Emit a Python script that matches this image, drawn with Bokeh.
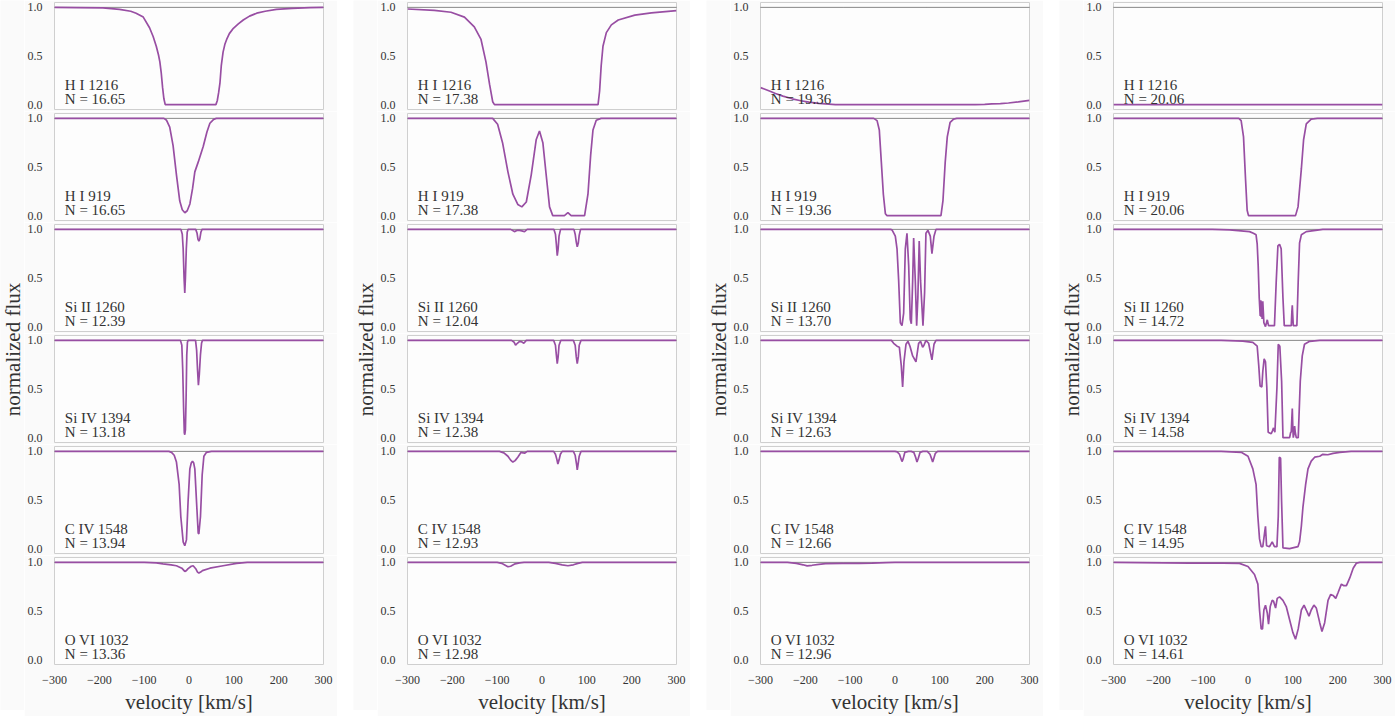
from bokeh.plotting import figure
from bokeh.layouts import row, column, Spacer
from bokeh.models import Span, Label, FixedTicker
from bokeh.embed import file_html
from bokeh.resources import INLINE

FONT = "Liberation Serif"
TEXT = "#333333"
PURPLE = "#984ea3"

# ---------------- data ----------------
ions = ["H I 1216", "H I 919", "Si II 1260", "Si IV 1394", "C IV 1548", "O VI 1032"]
N_col1 = [16.65, 16.65, 12.39, 13.18, 13.94, 13.36]
N_col2 = [17.38, 17.38, 12.04, 12.38, 12.93, 12.98]
N_col3 = [19.36, 19.36, 13.70, 12.63, 12.66, 12.96]
N_col4 = [20.06, 20.06, 14.72, 14.58, 14.95, 14.61]

x_ticks = [-300, -200, -100, 0, 100, 200, 300]
x_tick_labels = ["\u2212300", "\u2212200", "\u2212100", "0", "100", "200", "300"]
y_ticks = [0, 0.5, 1]
y_tick_labels = ["0.0", "0.5", "1.0"]

# column 1
c1_h1216_v = [-300, -250, -192, -155, -130, -118, -102, -88, -80, -73, -68, -65, -62, -59, -56, -53, 60, 63, 66, 69, 72, 76, 80, 84, 90, 99, 110, 121, 135, 151, 170, 195, 230, 270, 300]
c1_h1216_f = [1.0, 0.998, 0.995, 0.98, 0.96, 0.94, 0.90, 0.79, 0.70, 0.60, 0.51, 0.44, 0.33, 0.18, 0.06, 0.0, 0.0, 0.04, 0.12, 0.22, 0.40, 0.54, 0.62, 0.67, 0.73, 0.785, 0.83, 0.87, 0.91, 0.94, 0.96, 0.98, 0.99, 0.998, 1.0]
c1_h919_v = [-300, -56, -50, -43, -35.5, -28, -20.6, -15, -9.3, -4, 2, 8, 13, 20.5, 31.7, 40, 46.6, 55, 61, 300]
c1_h919_f = [1, 1, 0.98, 0.91, 0.72, 0.42, 0.15, 0.06, 0.03, 0.05, 0.12, 0.28, 0.45, 0.55, 0.71, 0.86, 0.95, 0.99, 1, 1]
c1_si2_v = [-300, -18, -15, -13, -11, -9.4, -8, -6, -4, -2, 15, 18, 20, 22, 24, 26.5, 29, 300]
c1_si2_f = [1, 1, 0.95, 0.8, 0.5, 0.345, 0.5, 0.8, 0.97, 1, 1, 0.96, 0.9, 0.88, 0.9, 0.97, 1, 1]
c1_si4_v = [-300, -19, -16, -14, -12, -10.5, -9.4, -8, -6.5, -5, -3.5, -2, 14.6, 17, 19, 21, 23, 25.5, 28, 30, 300]
c1_si4_f = [1, 1, 0.95, 0.7, 0.3, 0.05, 0.03, 0.08, 0.4, 0.85, 0.98, 1, 1, 0.9, 0.7, 0.54, 0.65, 0.85, 0.97, 1, 1]
c1_c4_v = [-300, -45, -39, -33, -28, -22, -18.3, -13, -9.4, -5.7, -2, 1.9, 5, 7.8, 10.5, 13, 16.7, 20.5, 22, 25.6, 29.4, 33.2, 39, 50, 300]
c1_c4_f = [1, 1, 0.99, 0.96, 0.89, 0.66, 0.33, 0.07, 0.03, 0.09, 0.49, 0.82, 0.88, 0.9, 0.88, 0.82, 0.49, 0.16, 0.15, 0.33, 0.76, 0.95, 0.99, 1, 1]
c1_o6_v = [-300, -100, -73, -58, -40, -28, -16, -12, -9.4, -6, -2, 5, 9.3, 15, 19, 22, 26, 30, 46.6, 76, 106, 130, 300]
c1_o6_f = [1, 1, 0.995, 0.985, 0.975, 0.965, 0.94, 0.92, 0.907, 0.915, 0.935, 0.96, 0.965, 0.935, 0.9, 0.89, 0.9, 0.915, 0.94, 0.965, 0.99, 1, 1]

# column 2
c2_h1216_v = [-300, -240, -203, -173, -151, -136, -125, -117, -110, -106, 125, 128.5, 132, 136, 143.5, 154.7, 170, 207, 244, 300]
c2_h1216_f = [0.983, 0.97, 0.95, 0.90, 0.80, 0.67, 0.44, 0.21, 0.03, 0.0, 0.0, 0.14, 0.40, 0.60, 0.74, 0.82, 0.87, 0.92, 0.944, 0.967]
c2_h919_v = [-300, -110, -99, -88, -76, -65, -54, -45, -35, -24, -13, -5.6, 1.9, 9.3, 16.8, 24, 50, 57.8, 65, 95, 102.5, 108.5, 113.7, 121, 132, 300]
c2_h919_f = [1, 1, 0.94, 0.75, 0.45, 0.22, 0.115, 0.09, 0.14, 0.42, 0.78, 0.87, 0.75, 0.42, 0.09, 0.0, 0.0, 0.03, 0.0, 0.0, 0.22, 0.62, 0.88, 0.98, 1, 1]
c2_si2_v = [-300, -70, -61.5, -55, -50, -45, -39, -33, 26.5, 30, 32, 34, 36, 38, 41.4, 71.2, 74, 76.5, 78.6, 81, 83, 86, 300]
c2_si2_f = [1, 1, 0.977, 0.99, 0.99, 0.985, 0.977, 1, 1, 0.95, 0.85, 0.73, 0.8, 0.93, 1, 1, 0.95, 0.87, 0.82, 0.86, 0.94, 1, 1]
c2_si4_v = [-300, -68, -62, -59, -55, -50, -45, -40.6, -35, 26, 30, 32, 34, 36, 38, 42, 70, 74, 76.5, 78.6, 81, 83, 87, 300]
c2_si4_f = [1, 1, 0.98, 0.95, 0.97, 0.99, 0.985, 0.97, 1, 1, 0.95, 0.85, 0.76, 0.83, 0.95, 1, 1, 0.95, 0.83, 0.76, 0.83, 0.95, 1, 1]
c2_c4_v = [-300, -95, -85, -76, -70, -65, -60, -54, -46.6, -42, -39, -33, 26, 30, 33, 35.4, 38, 41, 45, 70, 74, 77, 78.6, 80, 83, 87, 300]
c2_c4_f = [1, 1, 0.985, 0.95, 0.91, 0.89, 0.905, 0.94, 0.99, 0.985, 0.98, 1, 1, 0.97, 0.92, 0.87, 0.91, 0.97, 1, 1, 0.96, 0.87, 0.81, 0.85, 0.95, 1, 1]
c2_o6_v = [-300, -100, -90, -82, -76, -70, -60, -50, -40, 15, 30, 45, 57.8, 70, 80, 90, 300]
c2_o6_f = [1, 1, 0.99, 0.97, 0.955, 0.96, 0.985, 0.995, 1, 1, 0.99, 0.975, 0.965, 0.975, 0.99, 1, 1]

# column 3
c3_h1216_v = [-300, -280, -266.6, -250, -229.5, -210, -192, -170, -155, -133, 179, 200, 216, 235, 253, 275, 300]
c3_h1216_f = [0.175, 0.14, 0.115, 0.088, 0.06, 0.04, 0.026, 0.013, 0.007, 0.0, 0.0, 0.003, 0.007, 0.011, 0.017, 0.028, 0.043]
c3_h919_v = [-300, -47.5, -40, -35, -30.5, -26, -21.5, -17.8, 102.5, 107, 112, 116.6, 123, 130.7, 138, 300]
c3_h919_f = [1, 1, 0.977, 0.88, 0.55, 0.22, 0.02, 0.0, 0.0, 0.155, 0.55, 0.81, 0.96, 0.993, 1, 1]
c3_si2_v = [-300, -10, -6.7, 0.7, 4.5, 8.2, 11.9, 15.6, 19.3, 23, 26.7, 30.5, 34, 36.4, 39.4, 41.6, 45.3, 48.3, 51, 54, 57, 62.4, 66, 69, 73.5, 78.7, 82.4, 87, 91.4, 300]
c3_si2_f = [1, 1, 0.995, 0.93, 0.80, 0.47, 0.04, 0.01, 0.14, 0.80, 0.96, 0.63, 0.075, 0.03, 0.47, 0.91, 0.47, 0.01, 0.3, 0.88, 0.47, 0.01, 0.35, 0.96, 0.99, 0.93, 0.75, 0.93, 1.0, 1]
c3_si4_v = [-300, -8, -3, 4.5, 9.7, 14, 17, 20, 24.5, 29, 33.4, 39.4, 46.8, 52.7, 57, 61.6, 64.6, 69, 75, 82.4, 87, 91.4, 300]
c3_si4_f = [1, 1, 0.97, 0.94, 0.93, 0.74, 0.52, 0.78, 0.96, 0.99, 0.94, 0.84, 0.78, 0.97, 0.99, 0.93, 0.95, 1.0, 0.97, 0.80, 0.96, 1, 1]
c3_c4_v = [-300, 0, 5, 10, 13, 15.6, 18, 22, 30, 36, 42, 46, 49, 52, 56, 62, 72, 78, 82, 84, 86, 90, 95, 300]
c3_c4_f = [1, 1, 0.995, 0.97, 0.93, 0.895, 0.92, 0.99, 1, 1, 0.99, 0.94, 0.89, 0.93, 0.99, 1, 1, 0.97, 0.92, 0.89, 0.92, 0.98, 1, 1]
c3_o6_v = [-300, -240, -220, -205, -196, -185, -170, -155, -118, -80, -51, -20, 0, 300]
c3_o6_f = [1, 1, 0.99, 0.975, 0.964, 0.97, 0.98, 0.987, 0.99, 0.99, 0.993, 0.998, 1, 1]

# column 4
c4_h1216_v = [-300, 300]
c4_h1216_f = [0.0, 0.0]
c4_h919_v = [-300, -20.5, -15.3, -10, -5.6, -1.9, 1.1, 106, 111.6, 119, 124, 130, 141, 155, 300]
c4_h919_f = [1, 1, 0.977, 0.81, 0.385, 0.056, 0.0, 0.0, 0.09, 0.48, 0.78, 0.944, 0.993, 1, 1]
c4_si2_v = [-300, -80, -41, 3.4, 12, 18, 20.5, 22.7, 25, 27.2, 28.5, 29.4, 30.5, 31.5, 33, 35.4, 39, 43, 45.8, 59, 63, 66.7, 70.4, 74, 77.9, 80.9, 96.5, 97.8, 98.8, 99.8, 101, 109, 112, 115, 119, 130, 167, 300]
c4_si2_f = [1, 1, 0.995, 0.977, 0.96, 0.944, 0.85, 0.63, 0.30, 0.11, 0.27, 0.1, 0.26, 0.08, 0.26, 0.04, 0.0, 0.07, 0.01, 0.01, 0.47, 0.83, 0.846, 0.80, 0.30, 0.01, 0.01, 0.15, 0.22, 0.12, 0.01, 0.01, 0.47, 0.86, 0.944, 0.977, 1.0, 1]
c4_si4_v = [-300, -60, -11.6, 10.8, 20.5, 24, 27, 30.9, 33, 36, 39, 42, 45, 51.8, 54.5, 57, 60, 64.5, 67.5, 71, 75, 78, 92.8, 95, 96.5, 97.8, 98.8, 100, 101, 103, 104, 105.5, 107.7, 112, 116.6, 121, 126, 137.5, 160, 300]
c4_si4_f = [1, 1, 0.993, 0.98, 0.94, 0.74, 0.53, 0.52, 0.68, 0.81, 0.78, 0.51, 0.056, 0.04, 0.07, 0.10, 0.056, 0.51, 0.96, 0.94, 0.58, 0.0, 0.0, 0.05, 0.06, 0.2, 0.30, 0.1, 0.0, 0.05, 0.12, 0.05, 0.0, 0.0, 0.58, 0.84, 0.96, 0.99, 1.0, 1]
c4_c4_v = [-300, -60, -15, 0, 10.8, 18, 22, 25.7, 29.4, 33, 36.9, 39, 41.4, 48, 54, 59, 64.5, 67.5, 69.8, 72.7, 74.9, 78, 92.8, 111.4, 115, 119, 122.6, 128.6, 133.8, 141, 148.7, 160, 167, 178, 189.7, 204.6, 230, 300]
c4_c4_f = [1, 1, 0.99, 0.95, 0.82, 0.66, 0.33, 0.10, 0.02, 0.02, 0.16, 0.23, 0.03, 0.02, 0.07, 0.02, 0.02, 0.33, 0.94, 0.93, 0.49, 0.007, 0.0, 0.02, 0.07, 0.23, 0.43, 0.66, 0.82, 0.90, 0.94, 0.95, 0.97, 0.965, 0.98, 0.99, 1.0, 1]
c4_o6_v = [-300, -131, -56, -19, 0, 14.5, 22, 25.7, 29.4, 32.4, 35.4, 39, 43, 45.8, 49.6, 54, 57, 61.5, 65.2, 70.4, 77.9, 85.3, 92.8, 100, 106, 112, 119, 125, 130, 136, 141, 147, 152.4, 160, 165, 171, 178.5, 184.5, 189.7, 195.7, 201, 208.3, 214, 219.5, 227, 234.6, 242, 249.4, 300]
c4_o6_f = [1, 0.993, 0.993, 0.99, 0.957, 0.875, 0.776, 0.51, 0.316, 0.316, 0.51, 0.56, 0.48, 0.365, 0.546, 0.61, 0.60, 0.53, 0.63, 0.645, 0.61, 0.546, 0.41, 0.28, 0.21, 0.316, 0.51, 0.56, 0.51, 0.447, 0.51, 0.56, 0.53, 0.38, 0.29, 0.38, 0.61, 0.67, 0.66, 0.63, 0.69, 0.776, 0.76, 0.76, 0.84, 0.94, 0.993, 1.0, 1.0]

columns_data = [
    ([(c1_h1216_v, c1_h1216_f), (c1_h919_v, c1_h919_f), (c1_si2_v, c1_si2_f),
      (c1_si4_v, c1_si4_f), (c1_c4_v, c1_c4_f), (c1_o6_v, c1_o6_f)], N_col1),
    ([(c2_h1216_v, c2_h1216_f), (c2_h919_v, c2_h919_f), (c2_si2_v, c2_si2_f),
      (c2_si4_v, c2_si4_f), (c2_c4_v, c2_c4_f), (c2_o6_v, c2_o6_f)], N_col2),
    ([(c3_h1216_v, c3_h1216_f), (c3_h919_v, c3_h919_f), (c3_si2_v, c3_si2_f),
      (c3_si4_v, c3_si4_f), (c3_c4_v, c3_c4_f), (c3_o6_v, c3_o6_f)], N_col3),
    ([(c4_h1216_v, c4_h1216_f), (c4_h919_v, c4_h919_f), (c4_si2_v, c4_si2_f),
      (c4_si4_v, c4_si4_f), (c4_c4_v, c4_c4_f), (c4_o6_v, c4_o6_f)], N_col4),
]

# ---------------- layout constants ----------------
FRAME_W = 269
FRAME_H = 107
B_TOP = 2
B_BOT = 2
B_LEFT = 22
B_RIGHT = 14
LAB_W = 24
GAP_W = 16
B_BOTTOM_LAST = 46
COL_H = 5 * (B_TOP + FRAME_H + B_BOT) + (B_TOP + FRAME_H + B_BOTTOM_LAST)
FIG_BG = "#fafafa"
PLOT_BG = "#fdfdfd"


def make_panel(v, f, ion, N, last):
    p = figure(frame_width=FRAME_W, frame_height=FRAME_H,
               x_range=(-300, 300), y_range=(-0.05, 1.05),
               output_backend="svg", toolbar_location=None,
               x_axis_location="below" if last else None,
               min_border_left=B_LEFT, min_border_right=B_RIGHT,
               min_border_top=B_TOP,
               min_border_bottom=B_BOTTOM_LAST if last else B_BOT,
               background_fill_color=PLOT_BG, border_fill_color=FIG_BG,
               outline_line_color="#cfcfcf", outline_line_width=1)
    p.xgrid.visible = False
    p.ygrid.visible = False
    p.yaxis.ticker = FixedTicker(ticks=y_ticks)
    p.yaxis.major_label_overrides = dict(zip(y_ticks, y_tick_labels))
    p.yaxis.major_label_standoff = 6
    if last:
        p.xaxis.ticker = FixedTicker(ticks=x_ticks)
        p.xaxis.major_label_overrides = dict(zip(x_ticks, x_tick_labels))
        p.xaxis.major_label_standoff = 5
        p.xaxis.axis_label = "velocity [km/s]"
        p.xaxis.axis_label_text_font = FONT
        p.xaxis.axis_label_text_font_size = "21px"
        p.xaxis.axis_label_text_font_style = "normal"
        p.xaxis.axis_label_text_color = TEXT
        p.xaxis.axis_label_standoff = 3
    for ax in p.axis:
        ax.axis_line_color = None
        ax.major_tick_line_color = None
        ax.minor_tick_line_color = None
        ax.major_label_text_font = FONT
        ax.major_label_text_font_size = "12px"
        ax.major_label_text_color = TEXT

    p.add_layout(Span(location=1.0, dimension="width", line_color="#111111",
                      line_dash="1 1", line_width=1, level="underlay"))
    p.line(v, f, line_color=PURPLE, line_width=1.7)
    p.add_layout(Label(x=-277, y=0.118, text=ion, text_font=FONT,
                       text_font_size="15px", text_color=TEXT,
                       text_baseline="bottom"))
    p.add_layout(Label(x=-277, y=-0.028, text=f"N = {N:.2f}", text_font=FONT,
                       text_font_size="15px", text_color=TEXT,
                       text_baseline="bottom"))
    return p


def make_ylabel():
    p = figure(frame_width=LAB_W, frame_height=COL_H,
               x_range=(0, LAB_W), y_range=(0, COL_H),
               output_backend="svg", toolbar_location=None,
               x_axis_location=None, y_axis_location=None, min_border=0,
               background_fill_color=FIG_BG, border_fill_color=FIG_BG,
               outline_line_color=None)
    p.xgrid.visible = False
    p.ygrid.visible = False
    p.add_layout(Label(x=LAB_W / 2, y=COL_H - 349, text="normalized flux", angle=90,
                       angle_units="deg", text_align="center",
                       text_baseline="middle", text_font=FONT,
                       text_font_size="21px", text_color=TEXT))
    return p


items = []
for ci, (spectra, Ns) in enumerate(columns_data):
    panels = []
    for k, ((v, f), ion, N) in enumerate(zip(spectra, ions, Ns)):
        panels.append(make_panel(v, f, ion, N, k == len(ions) - 1))
    items.append(make_ylabel())
    items.append(column(*panels, spacing=0))
    if ci < len(columns_data) - 1:
        items.append(Spacer(width=GAP_W, height=10))

layout = row(*items, spacing=0)

open("out.html", "w").write(file_html(layout, INLINE))
